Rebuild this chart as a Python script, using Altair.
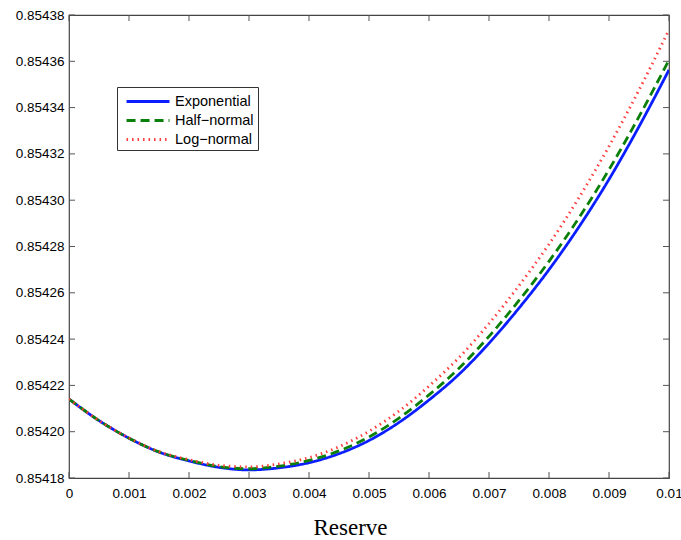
import altair as alt
import pandas as pd

reserve = [0.0, 0.0005, 0.001, 0.0015, 0.002, 0.0025, 0.003, 0.0035, 0.004, 0.0045,
           0.005, 0.0055, 0.006, 0.0065, 0.007, 0.0075, 0.008, 0.0085, 0.009, 0.0095, 0.01]

exponential = [0.8542141, 0.8542048, 0.8541972, 0.8541912, 0.8541874, 0.8541846, 0.8541835,
               0.8541844, 0.8541866, 0.8541905, 0.8541962, 0.8542040, 0.8542137, 0.8542248,
               0.8542382, 0.8542534, 0.8542700, 0.8542885, 0.8543090, 0.8543318, 0.8543563]

half_normal = [0.8542141, 0.8542048, 0.8541972, 0.8541913, 0.8541876, 0.8541849, 0.8541840,
               0.8541851, 0.8541876, 0.8541917, 0.8541977, 0.8542059, 0.8542159, 0.8542274,
               0.8542412, 0.8542567, 0.8542736, 0.8542924, 0.8543132, 0.8543361, 0.8543606]

log_normal = [0.8542141, 0.8542048, 0.8541973, 0.8541914, 0.8541879, 0.8541855, 0.8541848,
              0.8541861, 0.8541888, 0.8541935, 0.8542002, 0.8542089, 0.8542197, 0.8542320,
              0.8542467, 0.8542631, 0.8542810, 0.8543011, 0.8543233, 0.8543476, 0.8543736]

series_names = ["Exponential", "Half\u2212normal", "Log\u2212normal"]
series_colors = ["#0a1eff", "#0a7f0a", "#ff3b3b"]
series_dash = [[1, 0], [9, 5], [1.5, 4]]
series_width = [2.8, 2.8, 1.3]

x_ticks = [0, 0.001, 0.002, 0.003, 0.004, 0.005, 0.006, 0.007, 0.008, 0.009, 0.01]
y_ticks = [0.85418, 0.8542, 0.85422, 0.85424, 0.85426, 0.85428, 0.8543,
           0.85432, 0.85434, 0.85436, 0.85438]

rows = []
for name, vals in zip(series_names, [exponential, half_normal, log_normal]):
    for x, y in zip(reserve, vals):
        rows.append({"Reserve": x, "Value": y, "Series": name})
df = pd.DataFrame(rows)

W, H = 600, 463
FONT = "Liberation Sans"

xscale = alt.Scale(domain=[0, 0.01], nice=False, zero=False)
yscale = alt.Scale(domain=[0.85418, 0.85438], nice=False, zero=False)

LEG = dict(title=None, orient="none", legendX=48, legendY=72,
           symbolType="M-0.55,0L4.22,0", symbolSize=324,
           labelFont=FONT, labelFontSize=14.5, labelColor="#000",
           strokeColor="#333", fillColor="#fff", padding=4,
           rowPadding=2, labelOffset=33)

lines = alt.Chart(df).mark_line(clip=True, interpolate="monotone").encode(
    x=alt.X("Reserve:Q", scale=xscale, title="Reserve",
            axis=alt.Axis(values=x_ticks, format="~g", tickSize=0, labelPadding=8,
                          domain=False, grid=False, labelFont=FONT, labelFontSize=13.5,
                          labelColor="#000", titleFont="Liberation Serif",
                          titleFontSize=23, titleFontWeight="normal", titleColor="#000",
                          titlePadding=17, titleX=281, labelFlush=False)),
    y=alt.Y("Value:Q", scale=yscale, title=None,
            axis=alt.Axis(values=y_ticks, format=".5f", tickSize=0, labelPadding=5,
                          domain=False, grid=False, labelFont=FONT, labelFontSize=13.5,
                          labelColor="#000", labelFlush=False)),
    color=alt.Color("Series:N", scale=alt.Scale(domain=series_names, range=series_colors),
                    legend=alt.Legend(**LEG)),
    strokeDash=alt.StrokeDash("Series:N", scale=alt.Scale(domain=series_names, range=series_dash),
                              legend=alt.Legend(**LEG)),
    strokeWidth=alt.StrokeWidth("Series:N", scale=alt.Scale(domain=series_names, range=series_width),
                                legend=alt.Legend(**LEG)),
)

xt = pd.DataFrame({"Reserve": x_ticks})
yt = pd.DataFrame({"Value": y_ticks})
tick_color = "#555"

xb = alt.Chart(xt).mark_rule(color=tick_color, strokeWidth=1).encode(
    x=alt.X("Reserve:Q", scale=xscale, title="Reserve"), y=alt.value(H), y2=alt.value(H - 6))
xtop = alt.Chart(xt).mark_rule(color=tick_color, strokeWidth=1).encode(
    x=alt.X("Reserve:Q", scale=xscale, title="Reserve"), y=alt.value(0), y2=alt.value(6))
yl = alt.Chart(yt).mark_rule(color=tick_color, strokeWidth=1).encode(
    y=alt.Y("Value:Q", scale=yscale, title=None), x=alt.value(0), x2=alt.value(6))
yr = alt.Chart(yt).mark_rule(color=tick_color, strokeWidth=1).encode(
    y=alt.Y("Value:Q", scale=yscale, title=None), x=alt.value(W), x2=alt.value(W - 6))

chart = alt.layer(xb, xtop, yl, yr, lines).properties(
    width=W, height=H,
    autosize=alt.AutoSizeParams(type="none"),
    padding={"left": 69, "top": 15, "right": 12, "bottom": 62},
    background="#ffffff",
).configure_view(stroke="#444", strokeWidth=1.2)

chart.save("out.html", embed_options={"renderer": "svg", "actions": False})
